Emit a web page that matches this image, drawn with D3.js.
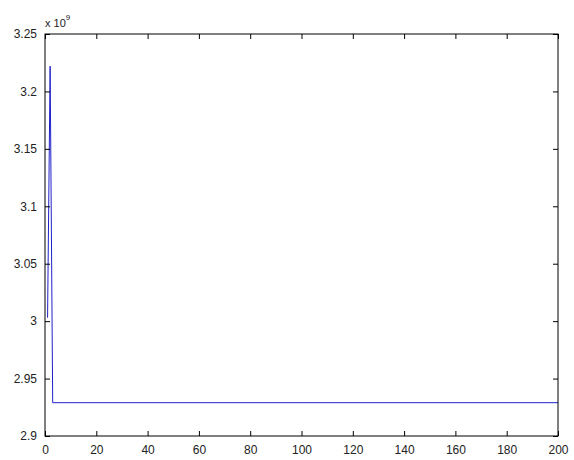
<!DOCTYPE html>
<html>
<head>
<meta charset="utf-8">
<script src="https://cdn.jsdelivr.net/npm/d3@7"></script>
<style>
  body { margin: 0; background: #fff; }
  svg text { font-family: "Liberation Sans", Arial, sans-serif; font-size: 12px; fill: #222; }
</style>
</head>
<body>
<div id="chart"></div>
<script>
// points of the curve (the tail is flat out to iteration 200)
const iterations = [1, 2, 3, 200];
const costs = [3.003e9, 3.222e9, 2.929e9, 2.929e9];

const xTicks = [0, 20, 40, 60, 80, 100, 120, 140, 160, 180, 200];
const yTicks = [2.9, 2.95, 3.0, 3.05, 3.1, 3.15, 3.2, 3.25];
const yTickLabels = ["2.9", "2.95", "3", "3.05", "3.1", "3.15", "3.2", "3.25"];

const width = 574, height = 460;
const margin = { top: 34, right: 16, bottom: 24, left: 45 };
const w = width - margin.left - margin.right;
const h = height - margin.top - margin.bottom;
const TICK = 5;

const svg = d3.select("#chart").append("svg")
    .attr("width", width)
    .attr("height", height);

const g = svg.append("g")
    .attr("transform", `translate(${margin.left},${margin.top})`);

const x = d3.scaleLinear().domain([0, 200]).range([0, w]);
const y = d3.scaleLinear().domain([2.9, 3.25]).range([h, 0]);

// data line
const line = d3.line()
    .x((d, i) => x(iterations[i]))
    .y(d => y(d / 1e9));

g.append("path")
    .datum(costs)
    .attr("fill", "none")
    .attr("stroke", "#2020c8")
    .attr("stroke-width", 1)
    .attr("d", line);

// axes, ticks pointing inward, MATLAB style box
const xAxis = d3.axisBottom(x).tickValues(xTicks).tickSizeInner(-TICK).tickSizeOuter(0).tickPadding(9);
const yAxis = d3.axisLeft(y).tickValues(yTicks).tickSizeInner(-TICK).tickSizeOuter(0).tickPadding(8)
    .tickFormat((d, i) => yTickLabels[i]);

const gx = g.append("g").attr("transform", `translate(0,${h})`).call(xAxis);
const gy = g.append("g").call(yAxis);

g.append("g").call(d3.axisTop(x).tickValues(xTicks).tickSizeInner(-TICK).tickSizeOuter(0).tickFormat(""));
g.append("g").attr("transform", `translate(${w},0)`)
    .call(d3.axisRight(y).tickValues(yTicks).tickSizeInner(-TICK).tickSizeOuter(0).tickFormat(""));

g.selectAll(".domain").remove();
g.selectAll(".tick line").attr("stroke", "#000");
g.selectAll(".tick text").attr("fill", "#222").style("font-size", "12px");

g.append("rect")
    .attr("width", w)
    .attr("height", h)
    .attr("fill", "none")
    .attr("stroke", "#000")
    .attr("stroke-width", 1);

// exponent label
const ex = g.append("text").attr("x", 0).attr("y", -7).style("font-size", "11px");
ex.append("tspan").text("x 10");
ex.append("tspan").attr("dy", -7).style("font-size", "8px").text("9");
</script>
</body>
</html>
